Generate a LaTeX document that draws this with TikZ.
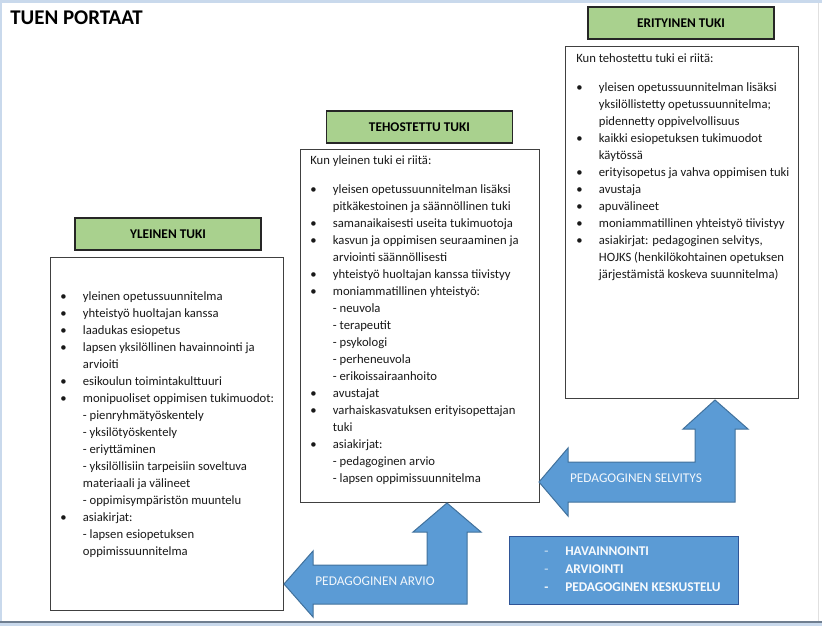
\documentclass[tikz,border=0pt]{standalone}
\usepackage{fontspec}
\setmainfont{Carlito}
\usetikzlibrary{fit,positioning}
\definecolor{leafgreen}{HTML}{A9D18E}
\definecolor{officeblue}{HTML}{5B9BD5}
\definecolor{blueedge}{HTML}{41719C}
\definecolor{deepedge}{HTML}{2F5597}
\definecolor{framesky}{HTML}{C9D9EC}
\definecolor{framegrey}{HTML}{6F7E90}
\tikzset{
  head/.style={draw=black!85,fill=leafgreen,line width=0.8pt,inner sep=0pt,minimum width=139.5pt,minimum height=24pt,font=\fontsize{10}{12}\selectfont\bfseries},
  panel/.style={draw=black!75,line width=0.75pt,inner sep=0pt,fill=white},
  lst/.style={anchor=base west,inner sep=0pt,font=\fontsize{9.5}{12.75}\selectfont,text=black!90},
  barrow/.style={draw=blueedge,fill=officeblue,line width=0.75pt,line join=miter},
  atext/.style={text=white!92!officeblue,font=\fontsize{10}{12}\selectfont,inner sep=0pt},
}
\newcommand{\bl}{\textbullet}
\newcommand{\steplist}[1]{\begin{tabular}[t]{@{}p{17pt}@{}l@{}}#1\end{tabular}}

\begin{document}
\begin{tikzpicture}[x=0.75pt,y=-0.75pt]
\useasboundingbox (0,0) rectangle (822,626);
% screen frame
\fill[framesky] (0,0) rectangle (822,3);
\fill[framesky] (0,0) rectangle (2,626);
\fill[black!12] (818,3) rectangle (819,621);
\fill[framegrey] (0,621) rectangle (822,622.5);
\fill[framesky] (0,622.5) rectangle (822,626);

\node[anchor=base west,inner sep=0pt,font=\fontsize{15.7}{18}\selectfont\bfseries] (title) at (10,24) {TUEN PORTAAT};

% steps
\node[head] (hyl) at (168,234) {YLEINEN TUKI};
\node[panel,fit={(50,257) (283,610)}] (pyl) {};
\node[head] (hteh) at (419.5,127) {TEHOSTETTU TUKI};
\node[panel,fit={(300,149) (539,502)}] (pteh) {};
\node[head] (heri) at (681,23) {ERITYINEN TUKI};
\node[panel,fit={(565,46) (798,398)}] (peri) {};

\node[lst] (lyl) at (60,300) {\steplist{
\bl & yleinen opetussuunnitelma\\
\bl & yhteistyö huoltajan kanssa\\
\bl & laadukas esiopetus\\
\bl & lapsen yksilöllinen havainnointi ja\\
    & arvioiti\\
\bl & esikoulun toimintakulttuuri\\
\bl & monipuoliset oppimisen tukimuodot:\\
    & - pienryhmätyöskentely\\
    & - yksilötyöskentely\\
    & - eriyttäminen\\
    & - yksilöllisiin tarpeisiin soveltuva\\
    & materiaali ja välineet\\
    & - oppimisympäristön muuntelu\\
\bl & asiakirjat:\\
    & - lapsen esiopetuksen\\
    & oppimissuunnitelma}};

\node[lst] (lteh) at (310,164) {\steplist{
\multicolumn{2}{@{}l@{}}{Kun yleinen tuki ei riitä:}\\[9pt]
\bl & yleisen opetussuunnitelman lisäksi\\
    & pitkäkestoinen ja säännöllinen tuki\\
\bl & samanaikaisesti useita tukimuotoja\\
\bl & kasvun ja oppimisen seuraaminen ja\\
    & arviointi säännöllisesti\\
\bl & yhteistyö huoltajan kanssa tiivistyy\\
\bl & moniammatillinen yhteistyö:\\
    & - neuvola\\
    & - terapeutit\\
    & - psykologi\\
    & - perheneuvola\\
    & - erikoissairaanhoito\\
\bl & avustajat\\
\bl & varhaiskasvatuksen erityisopettajan\\
    & tuki\\
\bl & asiakirjat:\\
    & - pedagoginen arvio\\
    & - lapsen oppimissuunnitelma}};

\node[lst] (leri) at (576,62) {\steplist{
\multicolumn{2}{@{}l@{}}{Kun tehostettu tuki ei riitä:}\\[9pt]
\bl & yleisen opetussuunnitelman lisäksi\\
    & yksilöllistetty opetussuunnitelma;\\
    & pidennetty oppivelvollisuus\\
\bl & kaikki esiopetuksen tukimuodot\\
    & käytössä\\
\bl & erityisopetus ja vahva oppimisen tuki\\
\bl & avustaja\\
\bl & apuvälineet\\
\bl & moniammatillinen yhteistyö tiivistyy\\
\bl & asiakirjat: pedagoginen selvitys,\\
    & HOJKS (henkilökohtainen opetuksen\\
    & järjestämistä koskeva suunnitelma)}};

% block arrows
\draw[barrow] (447,503) -- (481,532) -- (467,532) -- (467,604) -- (313,604) -- (313,617)
  -- (284,584) -- (313,551) -- (313,565) -- (427,565) -- (427,532) -- (413,532) -- cycle;
\node[atext] (tarvio) at (375,581) {PEDAGOGINEN ARVIO};
\draw[barrow] (715,400) -- (748,429) -- (735,429) -- (735,502) -- (568,502) -- (568,516)
  -- (539,482) -- (568,448) -- (568,462) -- (695,462) -- (695,429) -- (683,429) -- cycle;
\node[atext] (tselv) at (636,478) {PEDAGOGINEN SELVITYS};

\node[draw=deepedge,fill=officeblue,line width=0.75pt,inner sep=0pt,fit={(509,536) (738,604)}] (means) {};
\node[anchor=base west,inner sep=0pt,text=white!95!officeblue,font=\fontsize{10}{13.5}\selectfont\bfseries] (lmeans) at (544,555)
  {\begin{tabular}[t]{@{}p{15.75pt}@{}l@{}}
  \textcolor{white!55!officeblue}{-} & HAVAINNOINTI\\
  \textcolor{white!55!officeblue}{-} & ARVIOINTI\\
  - & PEDAGOGINEN KESKUSTELU
  \end{tabular}};
\end{tikzpicture}
\end{document}
